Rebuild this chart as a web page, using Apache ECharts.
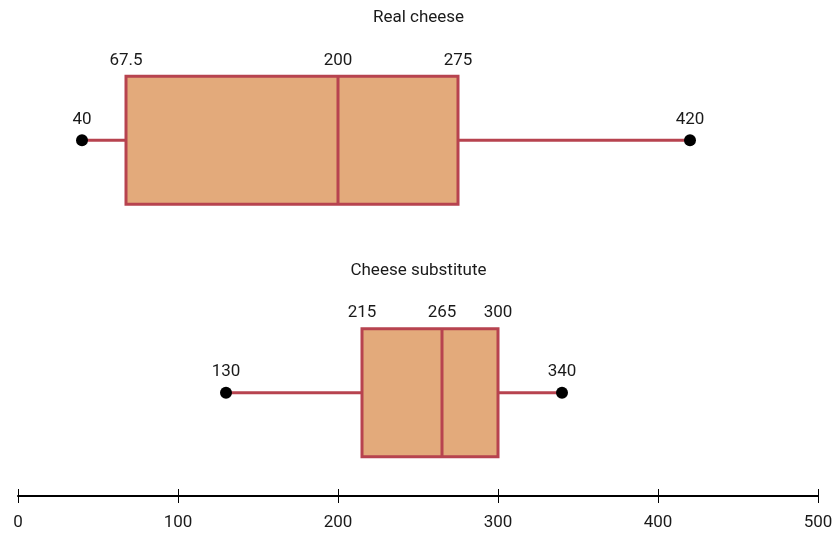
<!DOCTYPE html>
<html><head><meta charset="utf-8">
<script src="https://cdn.jsdelivr.net/npm/echarts@6/dist/echarts.min.js"></script>
<style>html,body{margin:0;padding:0;background:#fff}#c{width:837px;height:533px}</style>
</head><body><div id="c"></div>
<script>
const groups = ['Real cheese', 'Cheese substitute'];
const minVals = [40, 130];
const q1Vals = [67.5, 215];
const medianVals = [200, 265];
const q3Vals = [275, 300];
const maxVals = [420, 340];
const axisMin = 0, axisMax = 500, axisStep = 100;

const FONT_FAMILY = "'Liberation Sans Narrow', 'Roboto', sans-serif";
const FONT_SIZE = 17;
const FILL = '#e3aa7b';
const STROKE = '#b7434f';
const TEXT = '#1a1a1a';

const data = groups.map((g, i) => [i, minVals[i], q1Vals[i], medianVals[i], q3Vals[i], maxVals[i]]);

function fmt(v) { return String(v); }

function renderItem(params, api) {
  const cat = api.value(0);
  const vals = [1, 2, 3, 4, 5].map(k => api.value(k));
  const yc = api.coord([0, cat])[1];
  const xs = vals.map(v => api.coord([v, cat])[0]);
  const half = 64;
  const font = FONT_SIZE + 'px ' + FONT_FAMILY;
  const ls = { stroke: STROKE, lineWidth: 3 };
  const children = [
    { type: 'line', shape: { x1: xs[0], y1: yc, x2: xs[1], y2: yc }, style: ls },
    { type: 'line', shape: { x1: xs[3], y1: yc, x2: xs[4], y2: yc }, style: ls },
    { type: 'rect', shape: { x: xs[1], y: yc - half, width: xs[3] - xs[1], height: half * 2 },
      style: { fill: FILL, stroke: STROKE, lineWidth: 3 } },
    { type: 'line', shape: { x1: xs[2], y1: yc - half, x2: xs[2], y2: yc + half }, style: ls },
    { type: 'circle', shape: { cx: xs[0], cy: yc, r: 6 }, style: { fill: '#000' } },
    { type: 'circle', shape: { cx: xs[4], cy: yc, r: 6 }, style: { fill: '#000' } }
  ];
  [[0, yc - 21], [4, yc - 21], [1, yc - half - 16], [2, yc - half - 16], [3, yc - half - 16]].forEach(([k, y]) => {
    children.push({ type: 'text', x: xs[k], y: y,
      style: { text: fmt(vals[k]), align: 'center', verticalAlign: 'middle', font: font, fill: TEXT } });
  });
  return { type: 'group', children };
}

const chart = echarts.init(document.getElementById('c'));
chart.setOption({
  animation: false,
  backgroundColor: '#fff',
  title: [
    { text: groups[0], left: 'center', top: 4, textStyle: { fontFamily: FONT_FAMILY, fontSize: FONT_SIZE, fontWeight: 'normal', color: TEXT } },
    { text: groups[1], left: 'center', top: 257, textStyle: { fontFamily: FONT_FAMILY, fontSize: FONT_SIZE, fontWeight: 'normal', color: TEXT } }
  ],
  grid: [
    { left: 18, right: 19, top: 14, height: 505 },
    { left: 18, right: 19, top: 400, height: 96 },
    { left: 18, right: 19, top: 400, height: 96 }
  ],
  xAxis: [
    { type: 'value', gridIndex: 0, min: axisMin, max: axisMax, interval: axisStep, show: false },
    { type: 'value', gridIndex: 1, min: axisMin, max: axisMax, interval: axisStep, position: 'bottom',
      splitLine: { show: false },
      axisLine: { show: true, lineStyle: { color: '#000', width: 2 } },
      axisTick: { show: true, length: 7, lineStyle: { color: '#000', width: 1 } },
      axisLabel: { margin: 18, color: TEXT, fontFamily: FONT_FAMILY, fontSize: FONT_SIZE } },
    { type: 'value', gridIndex: 2, min: axisMin, max: axisMax, interval: axisStep, position: 'bottom',
      splitLine: { show: false },
      axisLine: { show: false },
      axisTick: { show: true, inside: true, length: 7, lineStyle: { color: '#000', width: 1 } },
      axisLabel: { show: false } }
  ],
  yAxis: [
    { type: 'category', gridIndex: 0, data: groups, inverse: true, show: false },
    { type: 'value', gridIndex: 1, show: false },
    { type: 'value', gridIndex: 2, show: false }
  ],
  series: [{
    type: 'custom',
    xAxisIndex: 0, yAxisIndex: 0,
    renderItem: renderItem,
    encode: { x: [1, 2, 3, 4, 5], y: 0 },
    data: data,
    clip: false
  }]
});
</script>
</body></html>
